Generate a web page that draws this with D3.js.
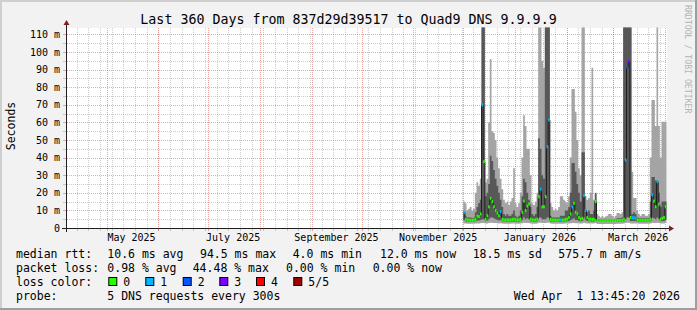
<!DOCTYPE html>
<html><head><meta charset="utf-8">
<script src="https://cdn.jsdelivr.net/npm/d3@7"></script>
<style>
body{margin:0;background:#f2f2f2}
svg{display:block}
text{font-family:"DejaVu Sans Mono",monospace;fill:#000}
</style>
</head><body>
<svg id="chart" width="697" height="310"></svg>
<script>
// ---------- data (one value per day, starting 2025-12-01) ----------
const dataStart = "2025-12-01";
const pingMax = [15,14,10,11,12,10,11,20,26,24,28,120,120,26,28,60,96,55,54,50,40,34,28,22,16,14,15,13,15,17,
  34,14,12,14,20,40,64,58,45,45,30,14,13,15,20,120,120,95,91,120,120,120,14,12,10,11,10,12,18,18,
  16,15,14,18,40,79,79,66,50,34,30,120,120,18,16,17,20,91,16,20,8,7,6,7,6,6.5,7,8,8,7,
  6,7,8.5,8.5,8,9,120,120,120,120,120,32,17,17,10,8,7,8,8,7,7,8,40,72.7,72.7,58,120,58,40,60.4,
  60.4,60.4];
const pingHigh = [9,7,6,6,6,5.5,6,9,12,14,16,120,120,18,20,25,41,38,33,28,24,20,16,12,8,7,8,7,7,8,
  10,7,6,7,10,18,28,26,20,16,12,8,7,8,12,51,45,30,28,120,120,120,7,6,6,6,6,6,7,7,
  7,10,10,12,20,37,37,32,25,20,15,43,43,10,9,10,8,8,10,19.7,5,5,5,5,5,5,5,5,5,5,
  5,5,5.5,5.5,5.5,6,120,120,120,120,120,8,9,8,6,5.5,5.5,5.5,5.5,5.5,5.5,5.5,15,29,29,27,27,20,12,15,
  15,15];
const medianRtt = [8.9,5,4.5,4.5,4.4,4.4,4.5,5,6.7,6.5,8,69.9,37.7,5,7,12,16.9,15,12,10,8.5,7,9.3,5,4.5,4.5,4.6,4.5,4.5,4.8,
  5.1,4.6,4.5,4.6,5,9,15.3,10,12.4,13.6,5,4.5,4.5,4.6,5,17.8,22,12,12.1,17.8,46.2,61.4,4.8,4.5,4.5,4.5,4.4,4.5,4.6,4.5,
  4.5,5,5,6,8,12,14,9,8,6,5,5.5,18.4,10,6,5,5,4.8,5,15,4.3,4.2,4.2,4.2,4.2,4.2,4.2,4.2,4.2,4.2,
  4.2,4.2,4.3,4.3,4.3,4.4,5,38.6,91.1,94.5,6,5.8,5.8,5.5,4.6,4.4,4.4,4.4,4.4,4.4,4.4,4.4,5,18.8,15.3,12.1,26.3,13.6,5,5.5,
  6,12];
const pingLow = [4.5,3.8,3.6,3.6,3.6,3.6,3.6,3.8,4.2,4.2,4.5,5,5,3.8,4.2,5,6,6,5.5,5,4.5,4.2,4.5,3.8,3.6,3.6,3.6,3.6,3.6,3.7,
  3.8,3.6,3.6,3.6,3.8,4.5,6,5,5.5,5,3.8,3.6,3.6,3.6,3.8,6,6,5,5,5,6,6,3.7,3.6,3.6,3.6,3.6,3.6,3.6,3.6,
  3.6,3.8,3.8,4,4.5,5,5.5,4.5,4.5,4,3.8,4,6,4.5,4,3.8,3.8,3.7,3.8,5,3.5,3.5,3.5,3.5,3.5,3.5,3.5,3.5,3.5,3.5,
  3.5,3.5,3.6,3.6,3.6,3.6,3.8,5,6,6,4,4,4,4,3.7,3.6,3.6,3.6,3.6,3.6,3.6,3.6,3.8,6,5.5,5,6,5,3.8,4,
  4,4.5];
const pingMin = [2.6,2.5,2.4,2.4,2.4,2.4,2.4,2.5,2.6,2.6,2.7,2.8,2.8,2.5,2.6,2.8,3,3,2.9,2.8,2.7,2.6,2.7,2.5,2.4,2.4,2.4,2.4,2.4,2.5,
  2.5,2.4,2.4,2.4,2.5,2.7,3,2.8,2.8,2.8,2.5,2.4,2.4,2.4,2.5,3,3,2.8,2.8,2.8,3,3,2.5,2.4,2.4,2.4,2.4,2.4,2.4,2.4,
  2.4,2.5,2.5,2.6,2.7,2.8,2.9,2.7,2.7,2.6,2.5,2.6,3,2.7,2.6,2.5,2.5,2.5,2.5,2.8,2.3,2.3,2.3,2.3,2.3,2.3,2.3,2.3,2.3,2.3,
  2.3,2.3,2.4,2.4,2.4,2.4,2.5,2.8,3,3,2.6,2.6,2.6,2.6,2.5,2.4,2.4,2.4,2.4,2.4,2.4,2.4,2.5,3,2.9,2.8,3,2.8,2.5,2.6,
  2.6,2.8];
const lossLevel = [1,0,0,0,0,0,0,0,0,0,0,1,0,0,0,0,0,0,0,0,0,0,1,0,0,0,0,0,0,0,
  0,0,0,0,0,0,0,0,0,0,0,0,0,0,0,0,1,0,0,0,1,1,0,0,0,0,0,0,1,0,
  0,0,0,0,0,1,0,0,0,0,0,0,1,1,0,0,0,0,0,0,0,0,0,0,0,0,0,0,0,0,
  0,0,0,0,0,0,0,1,2,3,0,1,1,1,0,0,0,0,0,0,0,0,0,1,0,0,1,0,0,0,
  0,0];

const yMajorTicks = [0,10,20,30,40,50,60,70,80,90,100,110];
const yMinorTicks = [5,15,25,35,45,55,65,75,85,95,105];
const lossColors = ["#26ff00","#00b8ff","#0059ff","#7e00ff","#ff0000","#a10000"];
const lossLabels = ["0","1","2","3","4","5/5"];
const title = "Last 360 Days from 837d29d39517 to Quad9 DNS 9.9.9.9";
const yTitle = "Seconds";
const watermark = "RRDTOOL / TOBI OETIKER";
const statLines = [
  {label:"median rtt:", items:["10.6 ms avg","94.5 ms max","4.0 ms min","12.0 ms now","18.5 ms sd","575.7 m am/s"]},
  {label:"packet loss:", items:["0.98 % avg","44.48 % max","0.00 % min","0.00 % now"]}
];
const probeText = ["probe:","5 DNS requests every 300s"];
const stampText = "Wed Apr  1 13:45:20 2026";

// ---------- layout ----------
const W = 697, H = 310;
const L = 67, R = 667, T = 28, B = 228;
const svg = d3.select("#chart");

svg.append("rect").attr("width",W).attr("height",H).attr("fill","#f2f2f2");
svg.append("rect").attr("x",0).attr("y",0).attr("width",W).attr("height",2).attr("fill","#cfcfcf");
svg.append("rect").attr("x",0).attr("y",0).attr("width",2).attr("height",H).attr("fill","#cfcfcf");
svg.append("rect").attr("x",0).attr("y",H-2).attr("width",W).attr("height",2).attr("fill","#9e9e9e");
svg.append("rect").attr("x",W-2).attr("y",0).attr("width",2).attr("height",H).attr("fill","#9e9e9e");

const x = d3.scaleUtc()
  .domain([new Date(Date.UTC(2025,3,7,7,12)), new Date(Date.UTC(2026,3,2,7,12))])
  .range([L, R]);
const y = d3.scaleLinear().domain([0, 113.64]).range([B, T]);

svg.append("rect").attr("x",L).attr("y",T).attr("width",R-L).attr("height",B-T).attr("fill","#ffffff");

// grid
const gridG = svg.append("g");
const minorCol = "rgba(143,143,143,0.45)", majorCol = "rgba(222,79,79,0.5)";
const weeks = d3.utcSunday.range(x.domain()[0], x.domain()[1]);
const months = d3.utcMonth.range(x.domain()[0], x.domain()[1]);
weeks.forEach(d => {
  const px = Math.round(x(d)) + 0.5;
  gridG.append("line").attr("x1",px).attr("x2",px).attr("y1",T).attr("y2",B)
    .attr("stroke",minorCol).attr("stroke-dasharray","1,1");
  gridG.append("line").attr("x1",px).attr("x2",px).attr("y1",B).attr("y2",B+3).attr("stroke",minorCol);
});
yMinorTicks.forEach(v => {
  const py = Math.round(y(v)) + 0.5;
  gridG.append("line").attr("x1",L).attr("x2",R).attr("y1",py).attr("y2",py)
    .attr("stroke",minorCol).attr("stroke-dasharray","1,1");
  gridG.append("line").attr("x1",L-4).attr("x2",L).attr("y1",py).attr("y2",py).attr("stroke",minorCol);
});
months.forEach(d => {
  const px = Math.round(x(d)) + 0.5;
  gridG.append("line").attr("x1",px).attr("x2",px).attr("y1",T).attr("y2",B)
    .attr("stroke",majorCol).attr("stroke-dasharray","1,1");
  gridG.append("line").attr("x1",px).attr("x2",px).attr("y1",B).attr("y2",B+3).attr("stroke",majorCol);
});
yMajorTicks.filter(v => v > 0).forEach(v => {
  const py = Math.round(y(v)) + 0.5;
  gridG.append("line").attr("x1",L).attr("x2",R).attr("y1",py).attr("y2",py)
    .attr("stroke",majorCol).attr("stroke-dasharray","1,1");
  gridG.append("line").attr("x1",L-4).attr("x2",L).attr("y1",py).attr("y2",py).attr("stroke",majorCol);
});

// data
const t0 = new Date(dataStart + "T00:00:00Z");
const rows = medianRtt.map((m,i) => ({
  t: d3.utcDay.offset(t0, i), mn: pingMin[i], lo: pingLow[i], me: m,
  hi: pingHigh[i], mx: pingMax[i], loss: lossLevel[i]
}));
const tEnd = d3.utcDay.offset(t0, rows.length);
const stepRows = rows.concat([{...rows[rows.length-1], t: tEnd}]);

svg.append("defs").append("clipPath").attr("id","plotclip")
  .append("rect").attr("x",L).attr("y",T-0.5).attr("width",R-L).attr("height",B-T+0.5);
const plot = svg.append("g").attr("clip-path","url(#plotclip)");

plot.append("path").datum(stepRows)
  .attr("d", d3.area().curve(d3.curveStepAfter).x(d=>x(d.t)).y0(d=>y(d.mn)).y1(d=>y(d.mx)))
  .attr("fill","#a4a4a4");
plot.append("path").datum(stepRows)
  .attr("d", d3.area().curve(d3.curveStepAfter).x(d=>x(d.t)).y0(d=>y(d.lo)).y1(d=>y(d.hi)))
  .attr("fill","#585858");
plot.append("path").datum(stepRows)
  .attr("d", d3.line().curve(d3.curveStepAfter).x(d=>x(d.t)).y(d=>y(d.me)))
  .attr("fill","none").attr("stroke","#202020").attr("stroke-width",1);
plot.selectAll("rect.med").data(rows).enter().append("rect")
  .attr("x", d => x(d.t))
  .attr("width", d => x(d3.utcDay.offset(d.t,1)) - x(d.t))
  .attr("y", d => y(d.me) - 1.5).attr("height", 3)
  .attr("fill", d => lossColors[d.loss]);

// axes
svg.append("line").attr("x1",L-5).attr("x2",R+4).attr("y1",B+0.5).attr("y2",B+0.5).attr("stroke","#1f1f1f");
svg.append("line").attr("x1",L-0.5).attr("x2",L-0.5).attr("y1",B+4).attr("y2",T-4).attr("stroke","#1f1f1f");
svg.append("path").attr("d",`M${R+2},${B-2.5}L${R+7},${B+0.5}L${R+2},${B+3.5}Z`).attr("fill","#801f1f");
svg.append("path").attr("d",`M${L-3.5},${T-3}L${L-0.5},${T-8}L${L+2.5},${T-3}Z`).attr("fill","#801f1f");

// y labels
yMajorTicks.forEach(v => {
  svg.append("text").attr("x",60).attr("y",y(v)).attr("dy","0.36em")
    .attr("text-anchor","end").attr("font-size","10px")
    .text(v === 0 ? "0" : v + " m");
});
// x labels
const fmt = d3.utcFormat("%B %Y");
months.filter(d => d.getUTCMonth() % 2 === 0).forEach(d => {
  svg.append("text").attr("x", x(d3.utcDay.offset(d,15))).attr("y",240.5)
    .attr("text-anchor","middle").attr("font-size","10px").text(fmt(d));
});

// title
svg.append("text").attr("x",348.5).attr("y",24).attr("text-anchor","middle")
  .attr("font-size","13.3px").text(title);
svg.append("text").attr("transform","translate(15,126) rotate(-90)")
  .attr("text-anchor","middle").attr("font-size","11.5px").text(yTitle);
svg.append("text").attr("transform","translate(685,5) rotate(90)")
  .attr("font-size","8.2px").style("fill","#b4b4b4").text(watermark);

// legend
const lx = [[16,107.3,200,292.7,380,472.7,558.3],[16,107.3,192.7,286,372.7]];
const lyb = [258.3, 272];
statLines.forEach((ln,k) => {
  svg.append("text").attr("x",lx[k][0]).attr("y",lyb[k]).attr("font-size","11.5px").text(ln.label);
  ln.items.forEach((it,j) => {
    svg.append("text").attr("x",lx[k][j+1]).attr("y",lyb[k]).attr("font-size","11.5px")
      .attr("xml:space","preserve").text(it);
  });
});
svg.append("text").attr("x",16).attr("y",286).attr("font-size","11.5px").text("loss color:");
const boxX = [108.3,145.3,182.7,219.3,256,293.3];
lossLabels.forEach((lab,i) => {
  svg.append("rect").attr("x",boxX[i]+0.5).attr("y",277.5).attr("width",8).attr("height",8)
    .attr("fill",lossColors[i]).attr("stroke","#000").attr("stroke-width",1);
  svg.append("text").attr("x",boxX[i]+15).attr("y",286).attr("font-size","11.5px").text(lab);
});
svg.append("text").attr("x",16).attr("y",299.5).attr("font-size","11.5px").text(probeText[0]);
svg.append("text").attr("x",107.3).attr("y",299.5).attr("font-size","11.5px").text(probeText[1]);
svg.append("text").attr("x",680).attr("y",299.5).attr("text-anchor","end").attr("font-size","11.5px")
  .attr("xml:space","preserve").text(stampText);
</script>
</body></html>
